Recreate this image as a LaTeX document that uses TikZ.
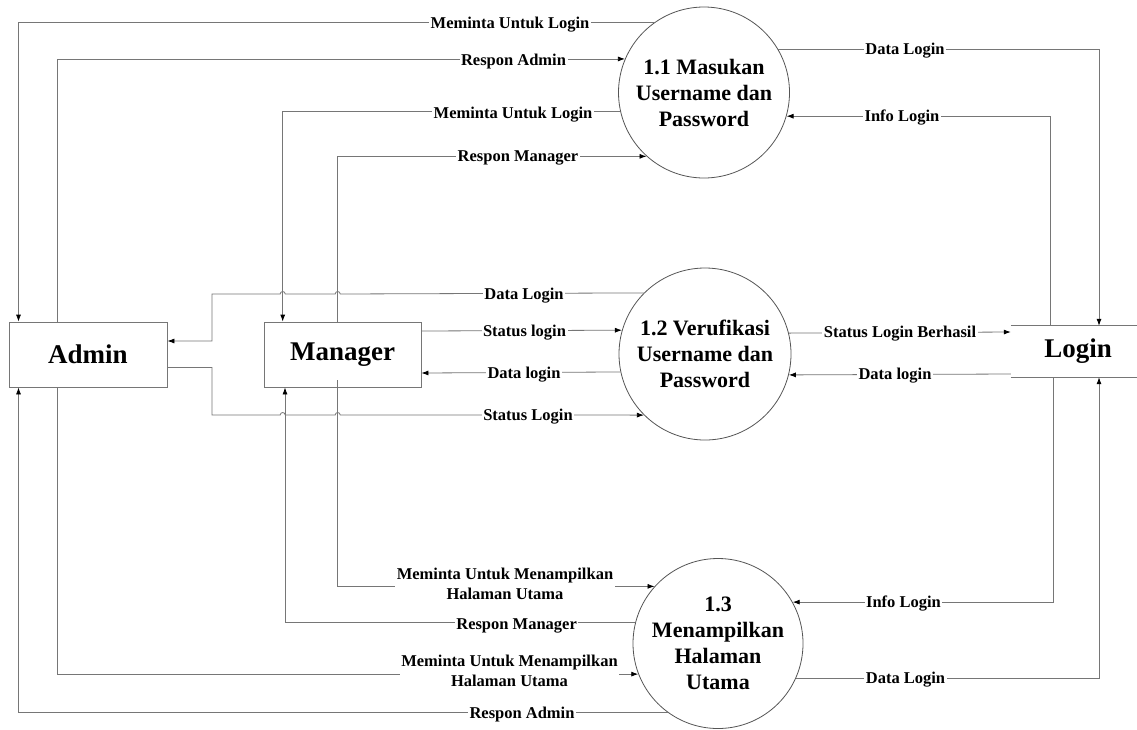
\documentclass[tikz,border=0pt]{standalone}
\usepackage{fontspec}
\setmainfont{Liberation Serif}
\usetikzlibrary{arrows.meta,calc}

\definecolor{linegray}{RGB}{118,118,118}
\definecolor{circgray}{RGB}{85,85,85}

\tikzset{
  flowline/.style={draw=linegray, line width=0.8pt},
  arr/.style={flowline, -{Latex[length=7pt,width=5pt,color=black]}},
  lbl/.style={fill=white, inner xsep=1.5pt, inner ysep=0.5pt,
    text height=11.5pt, text depth=0pt,
    font=\bfseries\fontsize{16.5}{20}\selectfont},
  lbltwo/.style={fill=white, inner xsep=1.5pt, inner ysep=1pt, align=center,
    font=\bfseries\fontsize{16.5}{20}\selectfont},
  proc/.style={circle, draw=circgray, line width=0.8pt, minimum size=#1,
    inner sep=0pt, align=center, font=\bfseries\fontsize{22}{26}\selectfont},
  entity/.style={rectangle, draw=linegray, line width=0.8pt,
    font=\bfseries\fontsize{27}{32}\selectfont},
  store/.style={rectangle, inner sep=0pt,
    font=\bfseries\fontsize{27}{32}\selectfont},
}

\begin{document}
\begin{tikzpicture}[x=1pt,y=-1pt]
\useasboundingbox[fill=white] (0,0) rectangle (1137,729);

% external entities and data store
\node[entity, minimum width=158pt, minimum height=65pt] (Admin) at (88,354.5) {Admin};
\node[entity, minimum width=157pt, minimum height=65pt] (Manager) at (342.5,354.5) {Manager};
\node[store, minimum width=134pt, minimum height=51pt] (Login) at (1078,351.5) {Login};
\draw[flowline] (Login.north west) -- (Login.north east);
\draw[flowline] (Login.south west) -- (Login.south east);

% processes
\node[proc=171pt] (C11) at (704,92.5) {1.1 Masukan\\Username dan\\Password};
\node[proc=172pt] (C12) at (705,354) {1.2 Verufikasi\\Username dan\\Password};
\node[proc=170pt] (C13) at (718,643.5) {1.3\\Menampilkan\\Halaman\\Utama};

% vertical routing lanes
\coordinate (xa) at (18.5,0);
\coordinate (xb) at (57,0);
\coordinate (xm1) at (282.7,0);
\coordinate (xm1b) at (285,0);
\coordinate (xm2) at (337.7,0);
\coordinate (xl1) at (1050,0);
\coordinate (xl1b) at (1053,0);
\coordinate (xl2) at (1099,0);

% flows of process 1.1
\draw[arr] (C11.125.6) -| (Admin.north -| xa);
\draw[arr] (Admin.north -| xb) |- (C11.157.7);
\draw[arr] (C11.193.9) -| (Manager.north -| xm1);
\draw[arr] (Manager.north -| xm2) |- (C11.228);
\draw[arr] (C11.30.6) -| (Login.north -| xl2);
\draw[arr] (Login.north -| xl1) |- (C11.344);

% flows of process 1.2 (with line hops over the vertical lanes)
\draw[arr] (C12.135.8) -- (340.2,294)
  arc[start angle=0, end angle=-180, radius=2.5] -- (285.2,294)
  arc[start angle=0, end angle=-180, radius=2.5] -- (212,294)
  -- (212,341) -- ($(Admin.east)+(0,-13.5)$);
\draw[arr] ($(Admin.east)+(0,13)$) -- (212,367.5) -- (212,415)
  -- (280.2,415) arc[start angle=180, end angle=360, radius=2.5]
  -- (335.2,415) arc[start angle=180, end angle=360, radius=2.5]
  -- (C12.225.2);
\draw[arr] ($(Manager.east)+(0,-23.5)$) -- (C12.164.5);
\draw[arr] (C12.192.8) -- ($(Manager.east)+(0,18.5)$);
\draw[arr] (C12.14.8) -- ($(Login.west)+(0,-19.5)$);
\draw[arr] ($(Login.west)+(0,22.5)$) -- (C12.346.6);

% flows of process 1.3
\draw[arr] ($(Manager.south -| xm2)+(0,-7)$) |- (C13.138.3);
\draw[arr] (C13.166.7) -| (Manager.south -| xm1b);
\draw[arr] (Admin.south -| xb) |- (C13.201.75);
\draw[arr] (C13.234.85) -| (Admin.south -| xa);
\draw[arr] (Login.south -| xl1b) |- (C13.29.2);
\draw[arr] (C13.336.05) -| (Login.south -| xl2);

% flow labels
\node[lbl] (t1) at (510,23) {Meminta Untuk Login};
\node[lbl] (t2) at (513.5,60) {Respon Admin};
\node[lbl] (t3) at (513,113) {Meminta Untuk Login};
\node[lbl] (t4) at (518,156) {Respon Manager};
\node[lbl] (t5) at (905,49) {Data Login};
\node[lbl] (t6) at (902,116) {Info Login};
\node[lbl] (t7) at (524,294) {Data Login};
\node[lbl] (t8) at (524.5,331) {Status login};
\node[lbl] (t9) at (524,373) {Data login};
\node[lbl] (t10) at (528,415) {Status Login};
\node[lbl] (t11) at (900,332) {Status Login Berhasil};
\node[lbl] (t12) at (895,374) {Data login};
\node[lbltwo] (t13) at (505,584) {Meminta Untuk Menampilkan\\Halaman Utama};
\node[lbl] (t14) at (516.6,624) {Respon Manager};
\node[lbltwo] (t15) at (509.5,670.5) {Meminta Untuk Menampilkan\\Halaman Utama};
\node[lbl] (t16) at (522,713) {Respon Admin};
\node[lbl] (t17) at (903.5,602) {Info Login};
\node[lbl] (t18) at (905.5,678) {Data Login};
\end{tikzpicture}
\end{document}
